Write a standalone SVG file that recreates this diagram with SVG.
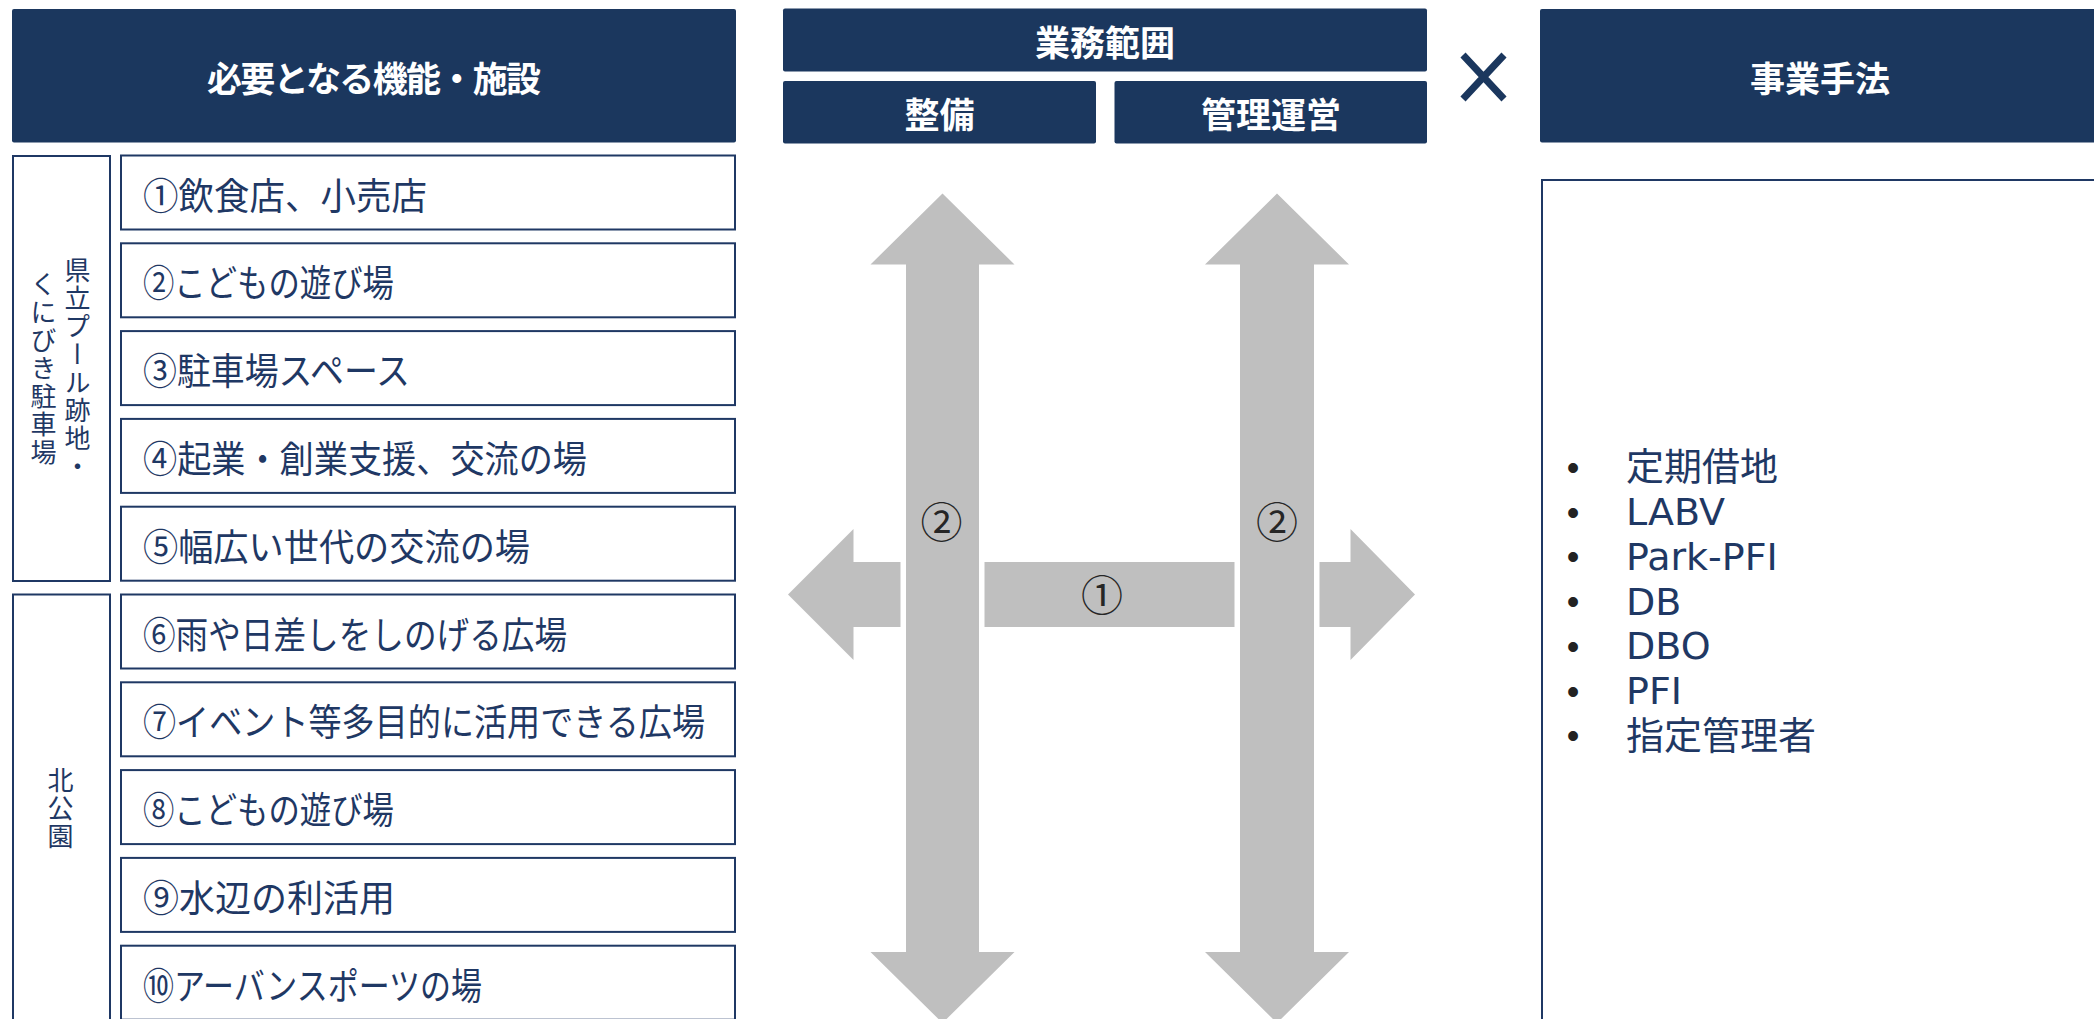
<svg xmlns="http://www.w3.org/2000/svg" width="2094" height="1019" viewBox="0 0 2094 1019">
<style>
.hdr{fill:#1B375E;}
.hdrt{fill:#FFFFFF;font-family:"Noto Sans CJK JP",sans-serif;font-weight:bold;font-size:35px;text-anchor:middle;dominant-baseline:central;}
.box{fill:#FFFFFF;stroke:#1F3864;stroke-width:2;}
.it{fill:#1F3864;font-family:"Noto Sans CJK JP",sans-serif;font-size:37px;dominant-baseline:central;}
.vt{fill:#1F3864;font-family:"Noto Sans CJK JP",sans-serif;font-size:26px;writing-mode:vertical-rl;text-anchor:middle;letter-spacing:2px;}
.arr{fill:#BFBFBF;}
.varr{fill:#BFBFBF;stroke:#FFFFFF;stroke-width:11;paint-order:stroke;stroke-linejoin:miter;}
.num{fill:#262626;font-family:"Noto Sans CJK JP",sans-serif;font-size:42px;text-anchor:middle;dominant-baseline:central;}
.li{fill:#1F3864;font-family:"DejaVu Sans","Noto Sans CJK JP",sans-serif;font-size:38px;dominant-baseline:central;}
.bul{fill:#222222;font-family:"Liberation Sans",sans-serif;font-size:36px;text-anchor:middle;dominant-baseline:central;}
</style>
<rect width="2094" height="1019" fill="#FFFFFF"/>

<g id="header-functions">
<rect class="hdr" x="12" y="9" width="724" height="133.5" rx="2"/>
<text class="hdrt" x="374" y="76" textLength="334">必要となる機能・施設</text>
</g>

<g id="group-pool">
<rect class="box" x="13" y="156" width="97" height="425"/>
<text class="vt" x="77.5" y="369">県立プール跡地・</text>
<text class="vt" x="43.5" y="369">くにびき駐車場</text>
</g>
<g id="group-north">
<rect class="box" x="13" y="594.5" width="97" height="430"/>
<text class="vt" x="60.5" y="809">北公園</text>
</g>

<g id="item-1"><rect class="box" x="121" y="155.5" width="614" height="74"/><text class="it" x="143" y="193.5" textLength="284" lengthAdjust="spacingAndGlyphs">①飲食店、小売店</text></g>
<g id="item-2"><rect class="box" x="121" y="243.3" width="614" height="74"/><text class="it" x="143" y="281.3" textLength="251" lengthAdjust="spacingAndGlyphs">②こどもの遊び場</text></g>
<g id="item-3"><rect class="box" x="121" y="331.1" width="614" height="74"/><text class="it" x="143" y="369.1" textLength="267" lengthAdjust="spacingAndGlyphs">③駐車場スペース</text></g>
<g id="item-4"><rect class="box" x="121" y="418.9" width="614" height="74"/><text class="it" x="143" y="456.9" textLength="444" lengthAdjust="spacingAndGlyphs">④起業・創業支援、交流の場</text></g>
<g id="item-5"><rect class="box" x="121" y="506.7" width="614" height="74"/><text class="it" x="143" y="544.7" textLength="387" lengthAdjust="spacingAndGlyphs">⑤幅広い世代の交流の場</text></g>
<g id="item-6"><rect class="box" x="121" y="594.5" width="614" height="74"/><text class="it" x="143" y="632.5" textLength="424" lengthAdjust="spacingAndGlyphs">⑥雨や日差しをしのげる広場</text></g>
<g id="item-7"><rect class="box" x="121" y="682.3" width="614" height="74"/><text class="it" x="143" y="720.3" textLength="562" lengthAdjust="spacingAndGlyphs">⑦イベント等多目的に活用できる広場</text></g>
<g id="item-8"><rect class="box" x="121" y="770.1" width="614" height="74"/><text class="it" x="143" y="808.1" textLength="251" lengthAdjust="spacingAndGlyphs">⑧こどもの遊び場</text></g>
<g id="item-9"><rect class="box" x="121" y="857.9" width="614" height="74"/><text class="it" x="143" y="895.9" textLength="252" lengthAdjust="spacingAndGlyphs">⑨水辺の利活用</text></g>
<g id="item-10"><rect class="box" x="121" y="945.7" width="614" height="74"/><text class="it" x="143" y="983.7" textLength="339" lengthAdjust="spacingAndGlyphs">⑩アーバンスポーツの場</text></g>

<g id="header-scope">
<rect class="hdr" x="783" y="8.5" width="644" height="63" rx="2"/>
<text class="hdrt" x="1105" y="40.5">業務範囲</text>
</g>
<g id="header-seibi">
<rect class="hdr" x="783" y="81" width="313" height="62.5" rx="2"/>
<text class="hdrt" x="939.5" y="112.5">整備</text>
</g>
<g id="header-kanri">
<rect class="hdr" x="1114.5" y="81" width="312.5" height="62.5" rx="2"/>
<text class="hdrt" x="1271" y="112.5">管理運営</text>
</g>

<g id="times">
<path d="M1463,55 L1504,99 M1504,55 L1463,99" fill="none" stroke="#1B375E" stroke-width="7"/>
</g>

<g id="header-method">
<rect class="hdr" x="1540" y="9" width="600" height="133.5" rx="2"/>
<text class="hdrt" x="1820" y="76">事業手法</text>
</g>

<g id="methods">
<rect class="box" x="1542" y="180" width="600" height="840"/>
<text class="bul" x="1573" y="467.4">•</text><text class="li" x="1626" y="467.4">定期借地</text>
<text class="bul" x="1573" y="512.2">•</text><text class="li" x="1626" y="512.2">LABV</text>
<text class="bul" x="1573" y="556.9">•</text><text class="li" x="1626" y="556.9">Park-PFI</text>
<text class="bul" x="1573" y="601.7">•</text><text class="li" x="1626" y="601.7">DB</text>
<text class="bul" x="1573" y="646.4">•</text><text class="li" x="1626" y="646.4">DBO</text>
<text class="bul" x="1573" y="691.2">•</text><text class="li" x="1626" y="691.2">PFI</text>
<text class="bul" x="1573" y="735.9">•</text><text class="li" x="1626" y="735.9">指定管理者</text>
</g>

<g id="connectors">
<polygon class="arr" points="788,594.5 853.5,529 853.5,562 1350.5,562 1350.5,529 1415,594.5 1350.5,660 1350.5,627 853.5,627 853.5,660"/>
<polygon class="varr" points="942.5,193.5 1014.5,264.5 979,264.5 979,952 1014.5,952 942.5,1023 870.5,952 906,952 906,264.5 870.5,264.5"/>
<polygon class="varr" points="1277,193.5 1349,264.5 1314,264.5 1314,952 1349,952 1277,1023 1205,952 1240,952 1240,264.5 1205,264.5"/>
<text class="num" x="941.5" y="519">②</text>
<text class="num" x="1277" y="519">②</text>
<text class="num" x="1102" y="592">①</text>
</g>
</svg>
